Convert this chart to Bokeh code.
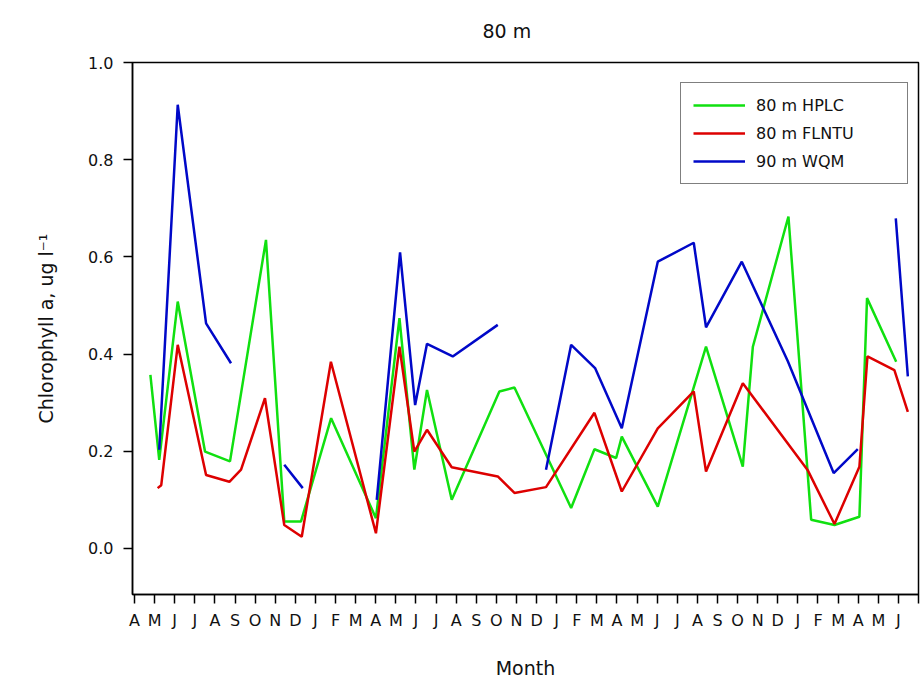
import numpy as np
from bokeh.plotting import figure
from bokeh.models import FixedTicker, Legend, LegendItem, Range1d
from bokeh.embed import file_html
from bokeh.resources import INLINE

# Month tick labels (Apr of year 1 .. Jun of year 4); tick 39 = Jul (unlabelled)
month_labels = ["A", "M", "J", "J", "A", "S", "O", "N", "D",
                "J", "F", "M", "A", "M", "J", "J", "A", "S", "O", "N", "D",
                "J", "F", "M", "A", "M", "J", "J", "A", "S", "O", "N", "D",
                "J", "F", "M", "A", "M", "J"]

# 80 m HPLC (x in months since 1 April of year 1)
hplc_x = [0.79, 1.23, 2.15, 3.51, 4.75, 6.54, 7.45, 8.28, 9.78, 12.01, 13.18, 13.92,
          14.55, 15.78, 18.15, 18.9, 21.72, 22.88, 23.96, 24.24, 26.03, 28.43, 30.26,
          30.76, 32.53, 33.66, 34.82, 36.06, 36.44, 37.89]
hplc_y = [0.357, 0.182, 0.508, 0.199, 0.179, 0.635, 0.055, 0.055, 0.268, 0.062, 0.474, 0.162,
          0.326, 0.100, 0.323, 0.331, 0.083, 0.204, 0.186, 0.230, 0.086, 0.415, 0.168,
          0.415, 0.683, 0.059, 0.048, 0.065, 0.515, 0.384]

# 80 m FLNTU
flntu_x = [1.15, 1.33, 2.15, 3.56, 4.72, 5.3, 6.49, 7.45, 8.32, 9.77, 12.01, 13.18, 13.92,
           14.55, 15.78, 18.07, 18.9, 20.47, 22.88, 24.24, 26.03, 27.82, 28.43, 30.26,
           33.5, 34.82, 36.06, 36.46, 37.8, 38.47]
flntu_y = [0.124, 0.13, 0.419, 0.151, 0.137, 0.162, 0.309, 0.048, 0.024, 0.384, 0.031, 0.415, 0.199,
           0.244, 0.167, 0.148, 0.114, 0.126, 0.279, 0.117, 0.247, 0.323, 0.158, 0.34,
           0.16, 0.05, 0.168, 0.395, 0.367, 0.281]

# 90 m WQM (NaN = gap in record)
wqm_x = [1.23, 2.15, 3.56, 4.8, np.nan,
         7.45, 8.37, np.nan,
         12.05, 13.21, 13.96, 14.55, 15.83, 18.07, np.nan,
         20.47, 21.72, 22.91, 24.24, 26.03, 27.82, 28.43, 30.21, 32.5, 34.78, 35.98, np.nan,
         37.87, 38.47]
wqm_y = [0.203, 0.913, 0.463, 0.381, np.nan,
         0.172, 0.124, np.nan,
         0.1, 0.609, 0.295, 0.421, 0.395, 0.46, np.nan,
         0.162, 0.419, 0.371, 0.247, 0.59, 0.629, 0.455, 0.59, 0.385, 0.155, 0.204, np.nan,
         0.679, 0.354]

title_text = "80 m"
series_names = ["80 m HPLC", "80 m FLNTU", "90 m WQM"]
series_colors = ["#10e010", "#dd0000", "#0008c8"]

FONT = "DejaVu Sans"
INK = "#111111"

p = figure(width=922, height=682, output_backend="svg", toolbar_location=None,
           x_range=Range1d(-0.1, 39), y_range=Range1d(-0.095, 1.0),
           min_border_left=132, min_border_right=4, min_border_top=62, min_border_bottom=88)
p.background_fill_color = "white"
p.border_fill_color = "white"
p.outline_line_color = "black"
p.outline_line_width = 1.5
p.grid.visible = False

p.title.text = title_text
p.title.text_font = FONT
p.title.text_font_size = "19px"
p.title.text_font_style = "normal"
p.title.text_color = INK
p.title.align = "left"
p.title.offset = 350
p.title.vertical_align = "top"
p.title.standoff = 38

r1 = p.line(hplc_x, hplc_y, line_color=series_colors[0], line_width=2.5)
r2 = p.line(flntu_x, flntu_y, line_color=series_colors[1], line_width=2.5)
r3 = p.line(wqm_x, wqm_y, line_color=series_colors[2], line_width=2.5)

xa = p.xaxis[0]
xa.ticker = FixedTicker(ticks=list(range(40)))
xa.major_label_overrides = {i: (month_labels[i] if i < len(month_labels) else "") for i in range(40)}
xa.minor_tick_line_color = None
xa.major_tick_out = 9
xa.major_tick_in = 0
xa.major_tick_line_width = 1.5
xa.axis_line_width = 1.5
xa.major_label_text_font = FONT
xa.major_label_text_font_size = "16px"
xa.major_label_text_color = INK
xa.major_label_standoff = 7
xa.axis_label = "Month"
xa.axis_label_text_font = FONT
xa.axis_label_text_font_size = "19px"
xa.axis_label_text_font_style = "normal"
xa.axis_label_text_color = INK
xa.axis_label_standoff = 24

ya = p.yaxis[0]
ya.ticker = FixedTicker(ticks=[0.0, 0.2, 0.4, 0.6, 0.8, 1.0])
ya.major_label_overrides = {0.0: "0.0", 0.2: "0.2", 0.4: "0.4", 0.6: "0.6", 0.8: "0.8", 1.0: "1.0"}
ya.minor_tick_line_color = None
ya.major_tick_out = 9
ya.major_tick_in = 0
ya.major_tick_line_width = 1.5
ya.axis_line_width = 1.5
ya.major_label_text_font = FONT
ya.major_label_text_font_size = "16px"
ya.major_label_text_color = INK
ya.major_label_standoff = 10
ya.axis_label = "Chlorophyll a, ug l\u207b\u00b9"
ya.axis_label_text_font = FONT
ya.axis_label_text_font_size = "19px"
ya.axis_label_text_font_style = "normal"
ya.axis_label_text_color = INK
ya.axis_label_standoff = 28

legend = Legend(items=[LegendItem(label=series_names[0], renderers=[r1]),
                       LegendItem(label=series_names[1], renderers=[r2]),
                       LegendItem(label=series_names[2], renderers=[r3])],
                location=(548, 410))
legend.border_line_color = "black"
legend.border_line_width = 1.5
legend.background_fill_color = "white"
legend.background_fill_alpha = 1.0
legend.padding = 12
legend.spacing = 8
legend.label_height = 20
legend.glyph_height = 20
legend.glyph_width = 52
legend.label_standoff = 11
legend.label_width = 139
legend.margin = 0
legend.label_text_font = FONT
legend.label_text_font_size = "16px"
legend.label_text_color = INK
p.add_layout(legend, "center")

open("out.html", "w").write(file_html(p, INLINE))
